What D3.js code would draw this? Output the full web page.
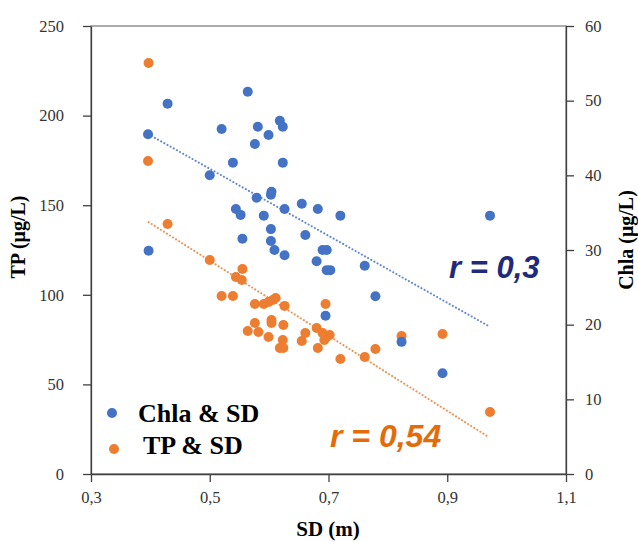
<!DOCTYPE html>
<html>
<head>
<meta charset="utf-8">
<script src="https://cdn.jsdelivr.net/npm/d3@7"></script>
<style>
  body { margin: 0; background: #fff; }
  svg { display: block; }
</style>
</head>
<body>
<div id="chart"></div>
<script>
// Chla (right axis) against SD
var sdChla = [0.396, 0.429, 0.564, 0.520, 0.581, 0.599, 0.618, 0.623, 0.576, 0.539,
              0.623, 0.500, 0.604, 0.603, 0.579, 0.544, 0.552, 0.626, 0.655, 0.682,
              0.720, 0.591, 0.603, 0.661, 0.555, 0.603, 0.609, 0.626, 0.690, 0.697,
              0.680, 0.697, 0.703, 0.695, 0.397, 0.972, 0.761, 0.779, 0.823, 0.892];
var chla = [45.5, 49.6, 51.2, 46.2, 46.5, 45.4, 47.3, 46.5, 44.2, 41.7,
            41.7, 40.0, 37.8, 37.4, 37.0, 35.5, 34.7, 35.5, 36.2, 35.5,
            34.6, 34.6, 32.8, 32.0, 31.5, 31.2, 30.0, 29.3, 30.0, 30.0,
            28.5, 27.3, 27.3, 21.2, 29.9, 34.6, 27.9, 23.8, 17.7, 13.5];

// TP (left axis) against SD
var sdTP = [0.397, 0.396, 0.429, 0.500, 0.555, 0.544, 0.554, 0.520, 0.539, 0.576,
            0.591, 0.599, 0.606, 0.611, 0.626, 0.695, 0.576, 0.604, 0.604, 0.624,
            0.564, 0.582, 0.599, 0.623, 0.618, 0.624, 0.655, 0.661, 0.680, 0.690,
            0.697, 0.702, 0.693, 0.682, 0.720, 0.761, 0.779, 0.823, 0.892, 0.972];
var tp = [229.4, 174.7, 139.5, 119.4, 114.4, 109.9, 108.3, 99.3, 99.3, 94.9,
          94.9, 96.0, 97.1, 98.2, 93.8, 94.9, 84.3, 85.9, 84.3, 83.1,
          79.8, 79.2, 76.5, 74.8, 70.3, 70.3, 74.2, 78.7, 81.5, 78.7,
          76.5, 77.6, 74.8, 70.3, 64.2, 65.3, 69.8, 77.0, 78.1, 34.6];

// trend lines as drawn in the figure
var trendSD = [0.397, 0.97];
var chlaTrend = [45.5, 19.8];
var tpTrend = [140.6, 20.6];

var xTicks = [0.3, 0.5, 0.7, 0.9, 1.1];
var tpTicks = [0, 50, 100, 150, 200, 250];
var chlaTicks = [0, 10, 20, 30, 40, 50, 60];

var width = 638, height = 542;
var plotLeft = 91, plotRight = 566, plotTop = 26, plotBottom = 474;

var blue = "#4472C4", orange = "#ED7D31";

var svg = d3.select("#chart").append("svg")
    .attr("width", width)
    .attr("height", height);

var x = d3.scaleLinear().domain([0.3, 1.1]).range([plotLeft, plotRight]);
var yL = d3.scaleLinear().domain([0, 250]).range([plotBottom, plotTop]);
var yR = d3.scaleLinear().domain([0, 60]).range([plotBottom, plotTop]);

var comma = function (d) { return d.toFixed(1).replace(".", ","); };

// frame
svg.append("rect")
    .attr("x", plotLeft).attr("y", plotTop)
    .attr("width", plotRight - plotLeft).attr("height", plotBottom - plotTop)
    .attr("fill", "none")
    .attr("stroke", "#7f7f7f")
    .attr("stroke-width", 1.3);

var xAxis = svg.append("g")
    .attr("transform", "translate(0," + plotBottom + ")")
    .call(d3.axisBottom(x).tickValues(xTicks).tickFormat(comma)
        .tickSize(8).tickSizeOuter(0).tickPadding(9));

var lAxis = svg.append("g")
    .attr("transform", "translate(" + plotLeft + ",0)")
    .call(d3.axisLeft(yL).tickValues(tpTicks)
        .tickSize(8).tickSizeOuter(0).tickPadding(19));

var rAxis = svg.append("g")
    .attr("transform", "translate(" + plotRight + ",0)")
    .call(d3.axisRight(yR).tickValues(chlaTicks)
        .tickSize(8).tickSizeOuter(0).tickPadding(11));

[xAxis, lAxis, rAxis].forEach(function (g) {
    g.selectAll("path, line").attr("stroke", "#404040").attr("stroke-width", 1.3);
    g.selectAll("text")
        .attr("font-family", "'Liberation Serif', 'Times New Roman', serif")
        .attr("font-size", 16.5)
        .attr("fill", "#333");
});

// points: orange first, blue drawn on top
svg.append("g").selectAll("circle")
    .data(tp)
    .enter().append("circle")
    .attr("cx", function (d, i) { return x(sdTP[i]); })
    .attr("cy", function (d) { return yL(d); })
    .attr("r", 5)
    .attr("fill", orange);

svg.append("g").selectAll("circle")
    .data(chla)
    .enter().append("circle")
    .attr("cx", function (d, i) { return x(sdChla[i]); })
    .attr("cy", function (d) { return yR(d); })
    .attr("r", 5)
    .attr("fill", blue);

// dotted trend lines
var line = d3.line();
svg.append("path")
    .attr("d", line(trendSD.map(function (s, i) { return [x(s), yR(chlaTrend[i])]; })))
    .attr("fill", "none")
    .attr("stroke", blue)
    .attr("stroke-width", 2)
    .attr("stroke-dasharray", "0.1,3.5")
    .attr("stroke-linecap", "round")
    .attr("opacity", 0.85);

svg.append("path")
    .attr("d", line(trendSD.map(function (s, i) { return [x(s), yL(tpTrend[i])]; })))
    .attr("fill", "none")
    .attr("stroke", orange)
    .attr("stroke-width", 2)
    .attr("stroke-dasharray", "0.1,3.5")
    .attr("stroke-linecap", "round")
    .attr("opacity", 0.85);

// r labels
svg.append("text")
    .attr("x", 449).attr("y", 278)
    .attr("font-family", "'Liberation Sans', Arial, sans-serif")
    .attr("font-weight", "bold").attr("font-style", "italic")
    .attr("font-size", 31)
    .attr("fill", "#1F2A7A")
    .text("r = 0,3");

svg.append("text")
    .attr("x", 330).attr("y", 447)
    .attr("font-family", "'Liberation Sans', Arial, sans-serif")
    .attr("font-weight", "bold").attr("font-style", "italic")
    .attr("font-size", 32)
    .attr("fill", "#E36C09")
    .text("r = 0,54");

// legend
var legend = svg.append("g")
    .attr("font-family", "'Liberation Serif', 'Times New Roman', serif")
    .attr("font-weight", "bold")
    .attr("font-size", 26)
    .attr("fill", "#000");

legend.append("circle").attr("cx", 112).attr("cy", 413).attr("r", 5).attr("fill", blue);
legend.append("text").attr("x", 138).attr("y", 422).text("Chla & SD");
legend.append("circle").attr("cx", 114).attr("cy", 449).attr("r", 5).attr("fill", orange);
legend.append("text").attr("x", 143).attr("y", 454).text("TP & SD");

// axis titles
var titleFont = "'Liberation Serif', 'Times New Roman', serif";
svg.append("text")
    .attr("transform", "translate(25,237) rotate(-90)")
    .attr("text-anchor", "middle")
    .attr("font-family", titleFont).attr("font-weight", "bold").attr("font-size", 20)
    .text("TP (μg/L)");

svg.append("text")
    .attr("transform", "translate(633,240) rotate(-90)")
    .attr("text-anchor", "middle")
    .attr("font-family", titleFont).attr("font-weight", "bold").attr("font-size", 20)
    .text("Chla (μg/L)");

svg.append("text")
    .attr("x", 328).attr("y", 536)
    .attr("text-anchor", "middle")
    .attr("font-family", titleFont).attr("font-weight", "bold").attr("font-size", 21)
    .text("SD (m)");
</script>
</body>
</html>
